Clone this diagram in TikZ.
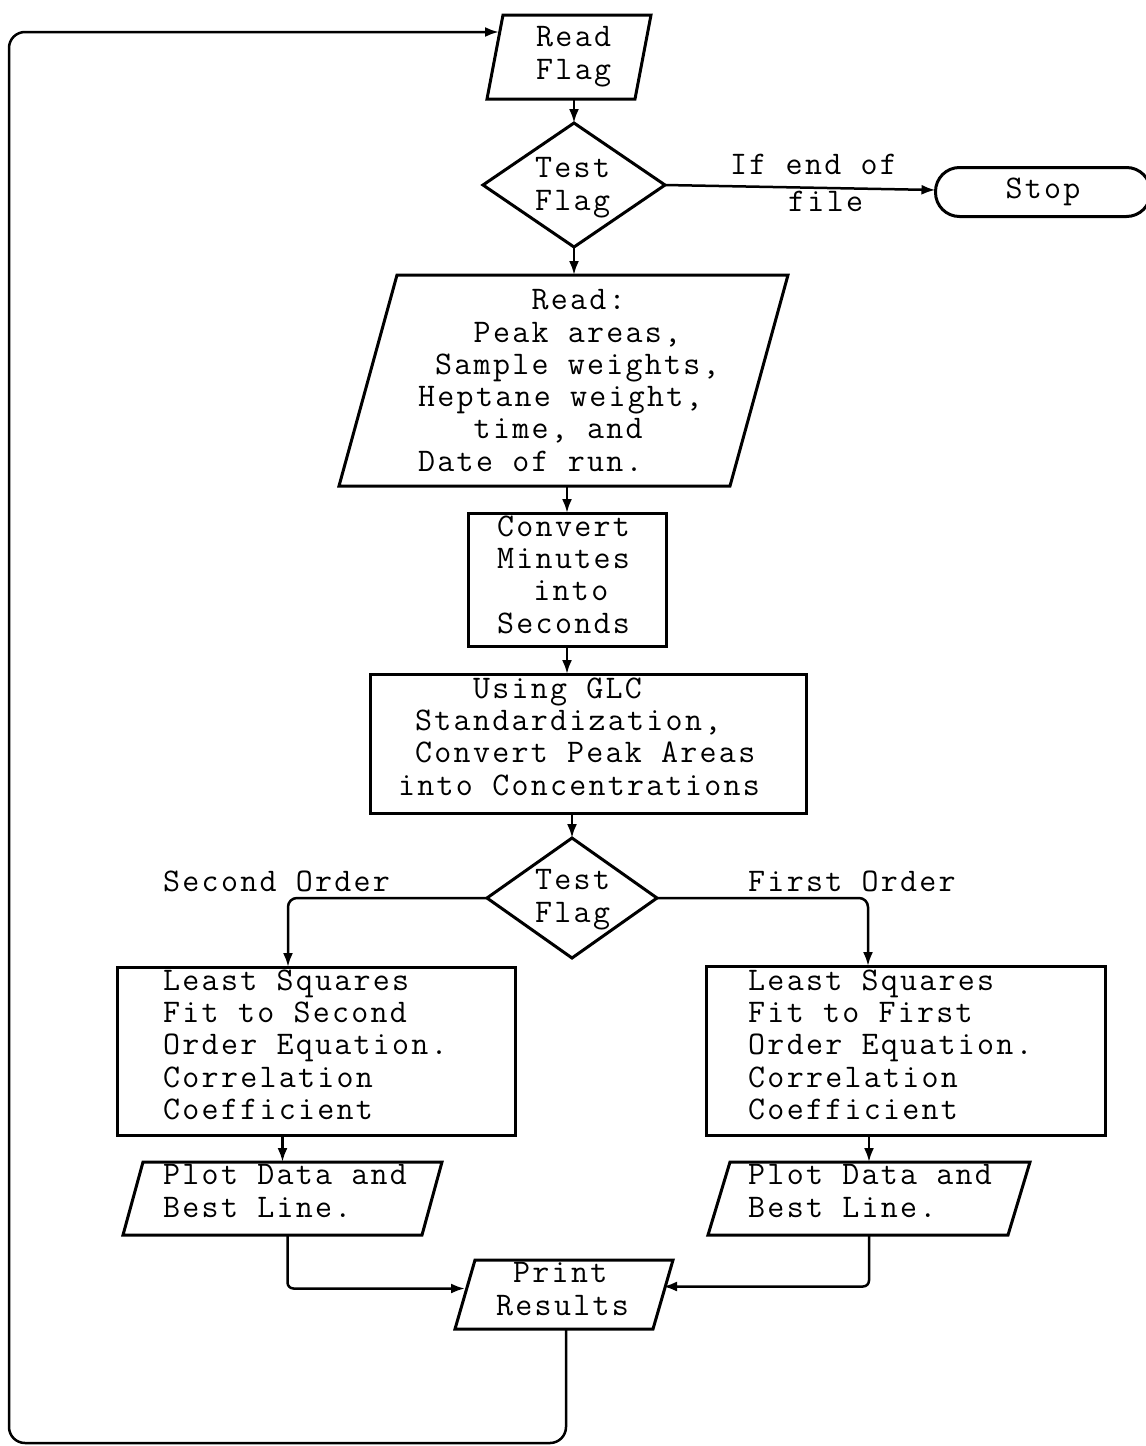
\documentclass[tikz,border=0pt]{standalone}
\usepackage{fontspec}
\newfontfamily\tyw{Latin Modern Mono}[LetterSpace=6.9]
\usetikzlibrary{arrows.meta,calc}
\newcommand{\twr}{\tyw\fontsize{33}{32.3}\selectfont}
\newcommand{\ind}[1]{\phantom{#1}}
\newcommand{\paraout}[2]{\draw[boxline] ([xshift=#2]#1.north west) -- ([xshift=#2]#1.north east) -- ([xshift=-#2]#1.south east) -- ([xshift=-#2]#1.south west) -- cycle;}
\newcommand{\diaout}[1]{\draw[boxline] (#1.north) -- (#1.east) -- (#1.south) -- (#1.west) -- cycle;}
\begin{document}
\begin{tikzpicture}[x=1pt,y=-1pt,
  boxline/.style={line width=3pt, line join=miter},
  shp/.style={rectangle, inner sep=0pt, outer sep=0pt},
  rbox/.style={shp, draw, line width=3pt},
  conn/.style={line width=2.5pt, -{Latex[length=14pt,width=10pt]}},
  txt/.style={anchor=north west, inner sep=0pt, align=left, font=\twr}]
\useasboundingbox (0,0) rectangle (1146,1446);
\clip (0,0) rectangle (1146,1446);
\fill[white] (0,0) rectangle (1146,1446);

% ---- shapes ----
\node[shp, minimum width=148pt, minimum height=84pt] (readflag) at (569,57) {};
\paraout{readflag}{8pt}
\node[shp, minimum width=182pt, minimum height=124pt] (test1) at (574,185) {};
\diaout{test1}
\node[rbox, rounded corners=24pt, minimum width=215pt, minimum height=49pt, font=\twr] (stop) at (1043,192) {Stop};
\node[shp, minimum width=391pt, minimum height=211pt] (readdata) at (563.5,380.5) {};
\paraout{readdata}{29pt}
\node[rbox, minimum width=198pt, minimum height=133pt] (convert) at (567,579.5) {};
\node[rbox, minimum width=436pt, minimum height=139pt] (using) at (588,743.5) {};
\node[shp, minimum width=170pt, minimum height=120pt] (test2) at (572,898) {};
\diaout{test2}
\node[rbox, minimum width=398pt, minimum height=168pt] (ls2) at (316,1051) {};
\node[rbox, minimum width=399pt, minimum height=169pt] (ls1) at (905.5,1050.5) {};
\node[shp, minimum width=299pt, minimum height=73pt] (plot2) at (282.5,1198.5) {};
\paraout{plot2}{10pt}
\node[shp, minimum width=300pt, minimum height=73pt] (plot1) at (869,1198.5) {};
\paraout{plot1}{11pt}
\node[shp, minimum width=198pt, minimum height=69pt] (print) at (564,1294.5) {};
\paraout{print}{10pt}

% ---- texts ----
\node[txt] (treadflag) at (536,26.4) {Read\\Flag};
\node[txt] (ttest1) at (535,157.4) {Test\\Flag};
\node[txt] (leof) at (730,154.4) {If end of};
\node[txt] (leof2) at (788,191) {file};
\node[txt] (treaddata) at (418,289.4) {\ind{xxxxxx}Read:\\\ind{xxx}Peak areas,\\\ind{x}Sample weights,\\Heptane weight,\\\ind{xxx}time, and\\Date of run.};
\node[txt] (tconvert) at (497,515.4) {Convert\\Minutes\\\ind{xx}into\\Seconds};
\node[txt] (tusing) at (398,677.4) {\ind{xxxx}Using GLC\\\ind{x}Standardization,\\\ind{x}Convert Peak Areas\\into Concentrations};
\node[txt] (ttest2) at (535,869.4) {Test\\Flag};
\node[txt] (lsecond) at (163,870.4) {Second Order};
\node[txt] (lfirst) at (748,870.4) {First Order};
\node[txt] (tls2) at (163,969.4) {Least Squares\\Fit to Second\\Order Equation.\\Correlation\\Coefficient};
\node[txt] (tls1) at (748,969.4) {Least Squares\\Fit to First\\Order Equation.\\Correlation\\Coefficient};
\node[txt] (tplot2) at (163,1164.4) {Plot Data and\\Best Line.};
\node[txt] (tplot1) at (748,1164.4) {Plot Data and\\Best Line.};
\node[txt] (tprint) at (496,1262.4) {\ind{x}Print\\Results};

% ---- connectors ----
\draw[conn] (readflag.south -| test1.north) -- (test1.north);
\draw[conn] (test1.east) -- ([yshift=2pt]stop.west);
\draw[conn] (test1.south) -- (test1.south |- readdata.north);
\draw[conn] (convert.north |- readdata.south) -- (convert.north);
\draw[conn] (convert.south) -- (convert.south |- using.north);
\draw[conn] (test2.north |- using.south) -- (test2.north);
\draw[conn, rounded corners=9pt] (test2.west) -| ([xshift=-28pt]ls2.north);
\draw[conn, rounded corners=9pt] (test2.east) -| ([xshift=-37.5pt]ls1.north);
\draw[conn] (plot2.north |- ls2.south) -- (plot2.north);
\draw[conn] (plot1.north |- ls1.south) -- (plot1.north);
\draw[conn, rounded corners=6pt] ([xshift=5pt]plot2.south) |- ([yshift=6pt]print.west);
\draw[conn, rounded corners=6pt] (plot1.south) |- ([yshift=8pt]print.east);
\coordinate (loopbl) at (9,1443);
\draw[conn, rounded corners=16pt] ([xshift=2pt]print.south) |- (loopbl) |- ([xshift=4pt,yshift=25pt]readflag.west);
\end{tikzpicture}
\end{document}
